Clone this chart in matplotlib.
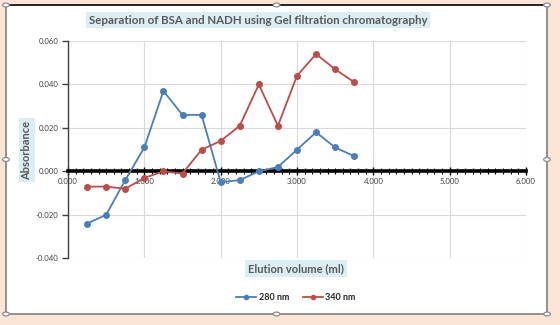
import matplotlib
matplotlib.use("Agg")
import matplotlib.pyplot as plt
from matplotlib.patches import Rectangle, Circle
from matplotlib.lines import Line2D
from matplotlib.ticker import MultipleLocator, FormatStrFormatter

# Data
volume = [0.25, 0.5, 0.75, 1.0, 1.25, 1.5, 1.75, 2.0, 2.25, 2.5, 2.75, 3.0, 3.25, 3.5, 3.75]
abs_280 = [-0.024, -0.020, -0.004, 0.011, 0.037, 0.026, 0.026, -0.005, -0.004, 0.000, 0.002, 0.010, 0.018, 0.011, 0.007]
abs_340 = [-0.007, -0.007, -0.008, -0.003, 0.000, -0.001, 0.010, 0.014, 0.021, 0.040, 0.021, 0.044, 0.054, 0.047, 0.041]
series_names = ["280 nm", "340 nm"]
title = "Separation of BSA and NADH using Gel filtration chromatography"
xlabel = "Elution volume (ml)"
ylabel = "Absorbance"

W, H = 560, 325
fig = plt.figure(figsize=(W / 100, H / 100), dpi=100)
fig.patch.set_facecolor("#FCE4D6")

def fx(px):
    return px / W

def fy(py):
    return 1 - py / H

# chart area (white box)
L, T, R, B = 6, 5, 547, 314
fig.add_artist(Rectangle((fx(L), fy(B)), fx(R) - fx(L), fy(T) - fy(B), transform=fig.transFigure,
                         facecolor="white", edgecolor="#7f7f7f", lw=1.2, zorder=0))
fig.add_artist(Line2D([fx(L), fx(R)], [fy(T), fy(T)], transform=fig.transFigure, color="#262626", lw=1.4, zorder=1))

ax = fig.add_axes([fx(68), fy(258.3), fx(526) - fx(68), fy(41) - fy(258.3)])
ax.set_facecolor("none")
blue = "#4a7ebb"
red = "#be4b48"
ax.plot(volume, abs_280, color=blue, lw=1.3, marker="o", ms=4, label=series_names[0], zorder=4)
ax.plot(volume, abs_340, color=red, lw=1.3, marker="o", ms=4, label=series_names[1], zorder=4)

ax.set_xlim(0, 6)
ax.set_ylim(-0.04, 0.06)
ax.xaxis.set_major_locator(MultipleLocator(1))
ax.xaxis.set_minor_locator(MultipleLocator(0.1))
ax.yaxis.set_major_locator(MultipleLocator(0.02))
ax.xaxis.set_major_formatter(FormatStrFormatter("%.3f"))
ax.yaxis.set_major_formatter(FormatStrFormatter("%.3f"))
ax.grid(True, color="#d9d9d9", lw=0.8, zorder=0)
ax.set_axisbelow(True)

for s in ["top", "right"]:
    ax.spines[s].set_visible(False)
ax.spines["left"].set_color("#404040")
ax.spines["left"].set_linewidth(1.0)
ax.spines["bottom"].set_position(("data", 0))
ax.spines["bottom"].set_color("black")
ax.spines["bottom"].set_linewidth(2.6)
ax.spines["bottom"].set_zorder(3)

ax.tick_params(axis="y", direction="out", length=4, width=1, color="#404040",
               labelsize=5.6, labelcolor="#404040", pad=3)
ax.tick_params(axis="x", which="major", direction="inout", length=6, width=1, color="black",
               labelsize=5.6, labelcolor="#404040", pad=2)
ax.tick_params(axis="x", which="minor", direction="inout", length=4, width=0.8, color="black")
for lab in ax.get_xticklabels() + ax.get_yticklabels():
    lab.set_fontfamily("Lato")

fig.text(fx(258), fy(20), title, ha="center", va="center", fontsize=8.3, fontweight="bold",
         color="#595959", family="Lato",
         bbox=dict(boxstyle="square,pad=0.25", facecolor="#DAEEF3", edgecolor="none"))
fig.text(fx(27), fy(150), ylabel, ha="center", va="center", rotation=90, fontsize=8,
         fontweight="bold", color="#595959", family="Lato",
         bbox=dict(boxstyle="square,pad=0.25", facecolor="#DAEEF3", edgecolor="none"))
fig.text(fx(296), fy(268.5), xlabel, ha="center", va="center", fontsize=8, fontweight="bold",
         color="#595959", family="Lato",
         bbox=dict(boxstyle="square,pad=0.25", facecolor="#DAEEF3", edgecolor="none"))

handles, labels = ax.get_legend_handles_labels()
leg = fig.legend(handles, labels, loc="center", bbox_to_anchor=(fx(296), fy(298)), ncol=2,
                 frameon=False, prop=dict(family="Lato", size=6.5, weight="bold"),
                 handlelength=2.2, columnspacing=1.5, handletextpad=0.3, markerscale=0.75)
for t in leg.get_texts():
    t.set_color("#262626")

# selection handles
mx, my = (L + R) / 2, (T + B) / 2
for (px, py) in [(L, T), (mx, T), (R, T), (L, my), (R, my), (L, B), (mx, B), (R, B)]:
    fig.add_artist(Circle((fx(px), fy(py)), radius=3.3 / W, transform=fig.transFigure,
                          facecolor="white", edgecolor="#8c8c8c", lw=0.9, zorder=5))

fig.savefig("out.png", dpi=100, facecolor=fig.get_facecolor())
